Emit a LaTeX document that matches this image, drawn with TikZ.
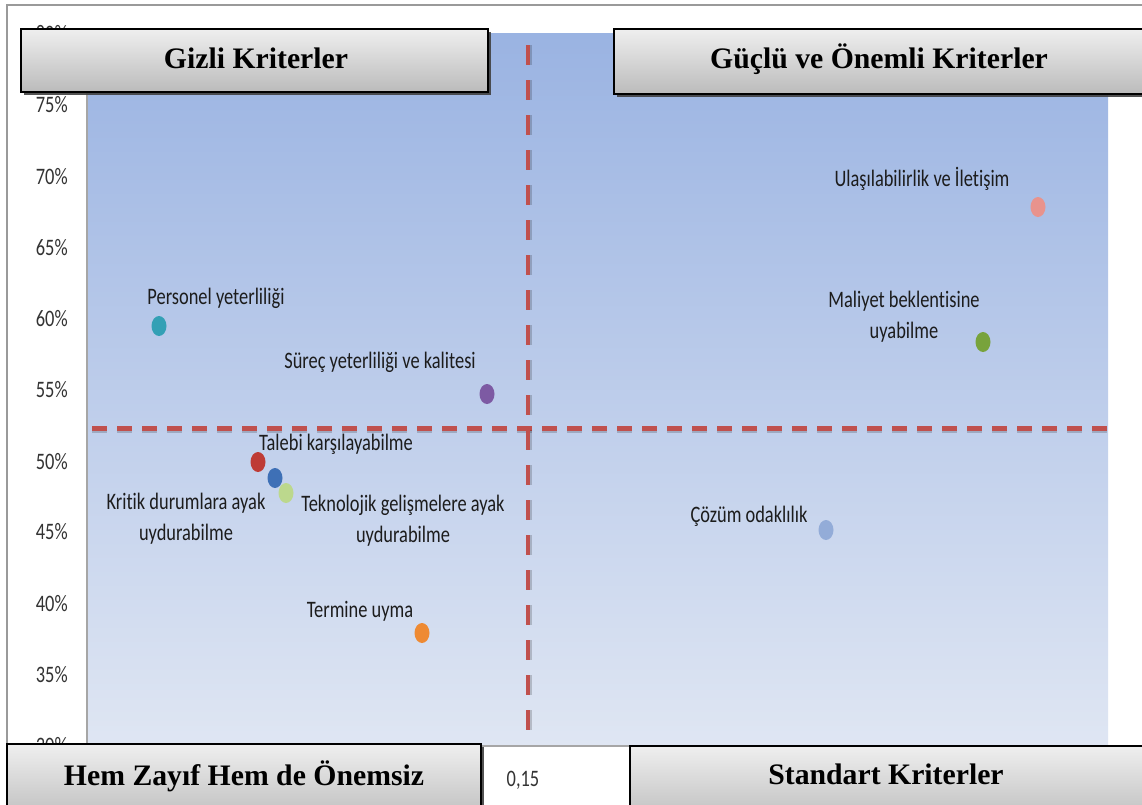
\documentclass[tikz,border=0pt]{standalone}
\usepackage{fontspec}
\setmainfont{Carlito}
\newfontfamily\ptfont[FakeStretch=0.78, Ligatures={NoCommon}]{Carlito}
\newfontfamily\boxfont{Liberation Serif}
\usetikzlibrary{shapes.geometric,shadows}

\definecolor{plottop}{HTML}{9AB3E2}
\definecolor{plotbot}{HTML}{DFE6F3}
\definecolor{axisline}{HTML}{A6A6A6}
\definecolor{framegray}{HTML}{9A9A9A}
\definecolor{quadred}{HTML}{C0504D}
\definecolor{boxtop}{HTML}{EFEFEF}
\definecolor{boxbot}{HTML}{BBBBBB}
\definecolor{labeltext}{HTML}{1C1C1C}
\definecolor{ticktext}{HTML}{333333}
\definecolor{cUlas}{HTML}{E8938D}
\definecolor{cMaliyet}{HTML}{78A33C}
\definecolor{cPersonel}{HTML}{33A0B5}
\definecolor{cSurec}{HTML}{7D5AA3}
\definecolor{cTalebi}{HTML}{BE3B35}
\definecolor{cKritik}{HTML}{3E70B6}
\definecolor{cTekno}{HTML}{BCD88D}
\definecolor{cCozum}{HTML}{93ACD8}
\definecolor{cTermin}{HTML}{EE8A33}

\tikzset{
  ptlabel/.style={font=\ptfont\fontsize{17.7}{23.25}\selectfont, text=labeltext,
    inner sep=0pt, align=center},
  ticklabel/.style={font=\ptfont\fontsize{17.7}{20}\selectfont, text=ticktext,
    inner sep=0pt, anchor=east},
  dot/.style={ellipse, inner sep=0pt, minimum width=11.25pt, minimum height=15pt, draw=none},
  quadbox/.style={draw=black, line width=1.4pt, top color=boxtop, bottom color=boxbot,
    inner sep=0pt, anchor=north west,
    drop shadow={shadow xshift=2.2pt, shadow yshift=-2.2pt, fill=black!75, opacity=0.9}},
  boxtitle/.style={font=\boxfont\bfseries\fontsize{22.3}{26}\selectfont, inner sep=0pt},
  quadline/.style={draw=quadred, line cap=butt},
  quadshade/.style={draw=black, opacity=0.18, line cap=butt},
}

\begin{document}
\begin{tikzpicture}[x=0.75pt, y=-0.75pt]
\useasboundingbox (0,0) rectangle (1142,804);
\fill[white] (0,0) rectangle (1142,804);

% outer chart frame
\draw[framegray, line width=1.3pt] (7,820) -- (7,5) -- (1160,5);

% plot area with vertical gradient
\shade[top color=plottop, bottom color=plotbot] (87,33) rectangle (1108,746);
\draw[axisline, line width=0.8pt] (87,33) -- (87,746) -- (1108,746);

% value axis labels
\foreach \v/\yy in {80/34, 75/105, 70/177, 65/248, 60/319, 55/390, 50/462, 45/532, 40/604, 35/675, 30/746}
  \node[ticklabel] (tick\v) at (68,\yy) {\v\%};
\node[font=\ptfont\fontsize{17.7}{20}\selectfont, text=ticktext, inner sep=0pt] (xtick) at (523,780) {0,15};

% quadrant separators
\coordinate (hA) at (92,428);
\coordinate (hB) at (1113,428);
\coordinate (vA) at (528,45);
\coordinate (vB) at (528,742);
\draw[quadshade, line width=4.5pt, dash pattern=on 11.25pt off 7.5pt] ([yshift=-1.5pt]hA) -- ([yshift=-1.5pt]hB);
\draw[quadline, line width=3.75pt, dash pattern=on 11.25pt off 7.5pt] (hA) -- (hB);
\draw[quadshade, line width=3.8pt, dash pattern=on 15pt off 11.25pt] ([xshift=1.2pt]vA) -- ([xshift=1.2pt]vB);
\draw[quadline, line width=3pt, dash pattern=on 15pt off 11.25pt] (vA) -- (vB);

% data points
\node[dot, fill=cUlas]     (ulas)     at (1038,207) {};
\node[dot, fill=cMaliyet]  (maliyet)  at (983,342) {};
\node[dot, fill=cPersonel] (personel) at (159,326) {};
\node[dot, fill=cSurec]    (surec)    at (487,394) {};
\node[dot, fill=cTalebi]   (talebi)   at (258,462) {};
\node[dot, fill=cKritik]   (kritik)   at (275,478) {};
\node[dot, fill=cTekno]    (tekno)    at (286,493) {};
\node[dot, fill=cCozum]    (cozum)    at (826,530) {};
\node[dot, fill=cTermin]   (termin)   at (422,633) {};

% point labels
\node[ptlabel] (ulasL)     at (922,179) {Ulaşılabilirlik ve İletişim};
\node[ptlabel] (maliyetL)  at (904,317) {Maliyet beklentisine\\uyabilme};
\node[ptlabel] (personelL) at (216,298) {Personel yeterliliği};
\node[ptlabel] (surecL)    at (380,362) {Süreç yeterliliği ve kalitesi};
\node[ptlabel] (talebiL)   at (336,444) {Talebi karşılayabilme};
\node[ptlabel] (kritikL)   at (186,519) {Kritik durumlara ayak\\uydurabilme};
\node[ptlabel] (teknoL)    at (403,521) {Teknolojik gelişmelere ayak\\uydurabilme};
\node[ptlabel] (cozumL)    at (749,516) {Çözüm odaklılık};
\node[ptlabel] (terminL)   at (360,611) {Termine uyma};

% quadrant title boxes
\node[quadbox, minimum width=350.25pt, minimum height=47.25pt] (gizliB) at (20,28) {};
\node[boxtitle] (gizliT) at (256,58) {Gizli Kriterler};
\node[quadbox, minimum width=399.75pt, minimum height=48.75pt] (gucluB) at (613,28) {};
\node[boxtitle] (gucluT) at (879,59) {Güçlü ve Önemli Kriterler};
\node[quadbox, minimum width=355.5pt, minimum height=60pt] (zayifB) at (6,743) {};
\node[boxtitle] (zayifT) at (244,776) {Hem Zayıf Hem de Önemsiz};
\node[quadbox, minimum width=386.25pt, minimum height=60pt] (standB) at (629,745) {};
\node[boxtitle] (standT) at (886,774) {Standart Kriterler};
\end{tikzpicture}
\end{document}
